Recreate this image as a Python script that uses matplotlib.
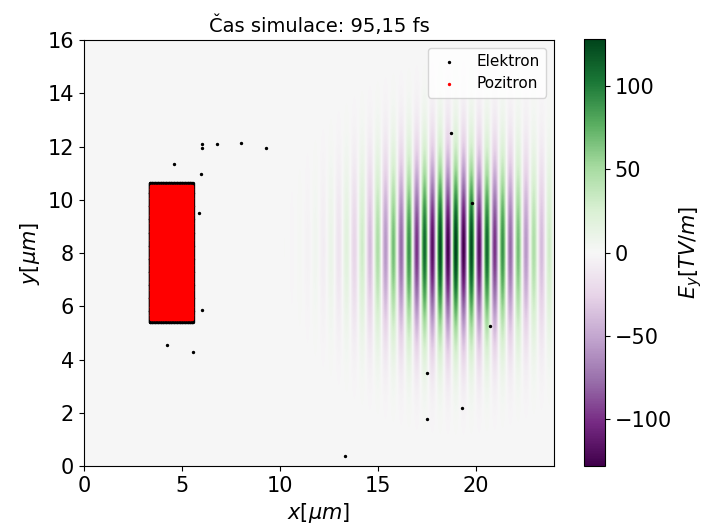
import numpy as np
import matplotlib.pyplot as plt

# simulation box [um]
box_x = (0.0, 24.0)
box_y = (0.0, 16.0)

# laser pulse
pulse_amp = 128.0        # TV/m
pulse_x0 = 19.0          # um
pulse_y0 = 8.2
pulse_sx = 4.0
pulse_sy = 3.2
wavelength = 0.8
field_lim = 128.0

# scattered electrons outside the target
elec_x = [4.60, 6.03, 6.03, 6.79, 8.02, 9.30, 5.98, 5.87, 6.03, 5.52, 4.24, 5.57,
          13.33, 18.74, 19.82, 20.74, 17.52, 17.52, 19.31]
elec_y = [11.34, 12.09, 11.94, 12.09, 12.13, 11.94, 10.97, 9.50, 5.86, 5.41, 4.54, 4.28,
          0.38, 12.51, 9.88, 5.26, 3.49, 1.77, 2.18]

# target block (electrons and positrons fill it)
target_elec = (3.35, 5.55, 5.42, 10.62)
target_pos = (3.40, 5.50, 5.52, 10.52)


def block_points(bounds, nx, ny):
    x0, x1, y0, y1 = bounds
    gx, gy = np.meshgrid(np.linspace(x0, x1, nx), np.linspace(y0, y1, ny))
    return gx.ravel(), gy.ravel()


# one sample per screen pixel so the fringes stay crisp
xs = np.linspace(box_x[0], box_x[1], 470)
ys = np.linspace(box_y[0], box_y[1], 426)
X, Y = np.meshgrid(xs, ys)
Ey = (pulse_amp * np.exp(-((X - pulse_x0) / pulse_sx) ** 2)
      * np.exp(-((Y - pulse_y0) / pulse_sy) ** 2)
      * np.cos(2 * np.pi * (X - pulse_x0) / wavelength))

fig = plt.figure(figsize=(7.08, 5.28), dpi=100)
ax = fig.add_axes([0.1186, 0.1174, 0.6638, 0.8068])
cax = fig.add_axes([0.8249, 0.1174, 0.0297, 0.8087])

im = ax.imshow(Ey, origin="lower", extent=[*box_x, *box_y], aspect="auto",
               cmap="PRGn", vmin=-field_lim, vmax=field_lim, interpolation="nearest")

bx, by = block_points(target_elec, 60, 150)
px, py = block_points(target_pos, 60, 150)
ax.scatter(np.concatenate([bx, elec_x]), np.concatenate([by, elec_y]),
           s=2, color="black", label="Elektron")
ax.scatter(px, py, s=2, color="red", label="Pozitron")

ax.set_xlim(*box_x)
ax.set_ylim(*box_y)
ax.set_title("Čas simulace: 95,15 fs", fontsize=14)
ax.set_xlabel(r"$x[\mu m]$", fontsize=15)
ax.set_ylabel(r"$y[\mu m]$", fontsize=15)
ax.tick_params(labelsize=15)
ax.legend(loc="upper right", fontsize=11)

cb = fig.colorbar(im, cax=cax)
cb.set_label(r"$E_y[TV/m]$", fontsize=15)
cb.ax.tick_params(labelsize=15)

fig.savefig("out.png", dpi=100)
